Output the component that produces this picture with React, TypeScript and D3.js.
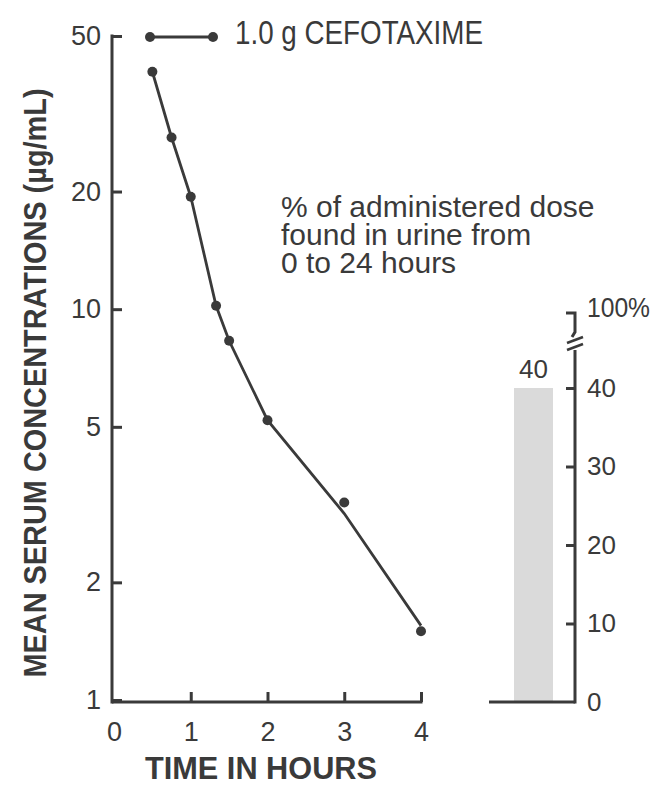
import React from 'react';
import * as d3 from 'd3';

// serum concentration (µg/mL) after 1.0 g cefotaxime
const times = [0.5, 0.75, 1, 1.33, 1.5, 2, 3, 4];
const serumConc = [40.5, 27.5, 19.4, 10.2, 8.3, 5.2, 3.2, 1.5];
// drawn curve (passes a little off the last two points)
const curveTimes = [0.5, 0.75, 1, 1.33, 1.5, 2, 3, 4];
const curveConc = [40.5, 27.5, 19.4, 10.2, 8.3, 5.2, 3.0, 1.55];

const xTicks = [0, 1, 2, 3, 4];
const yTicks = [1, 2, 5, 10, 20, 50];

// urine recovery bar
const urineLabels = ['0-24 h'];
const urinePct = [40];
const pctTicks = [0, 10, 20, 30, 40];

const INK = '#3a3a3a';
const SANS = '"Liberation Sans", Arial, Helvetica, sans-serif';

export default function App() {
  const svgRef = React.useRef<SVGSVGElement>(null);

  React.useEffect(() => {
    const svg = d3.select(svgRef.current);
    svg.selectAll('*').remove();

    const x = d3.scaleLinear().domain([0, 4]).range([114, 421]);
    const y = d3.scaleLog().domain([1, 50]).range([700, 36]);
    const yPct = d3.scaleLinear().domain([0, 40]).range([702, 388]);
    const xBar = d3.scaleBand<string>().domain(urineLabels).range([514, 553]);

    const axisLeftX = 112;
    const baseY = 702;
    const rightX = 575;

    // left (log) axis
    const yAxis = d3
      .axisLeft(y)
      .tickValues(yTicks)
      .tickFormat(d3.format('d') as any)
      .tickSizeInner(-10)
      .tickSizeOuter(0)
      .tickPadding(11);
    const gy = svg.append('g').attr('transform', `translate(${axisLeftX},0)`).call(yAxis as any);
    gy.select('.domain').remove();
    gy.selectAll('line').attr('stroke', INK).attr('stroke-width', 3);
    gy.selectAll('text')
      .attr('fill', INK)
      .style('font-family', SANS)
      .style('font-size', '27px');
    svg
      .append('line')
      .attr('x1', axisLeftX)
      .attr('x2', axisLeftX)
      .attr('y1', y(50) - 1.5)
      .attr('y2', baseY + 1.5)
      .attr('stroke', INK)
      .attr('stroke-width', 3);

    // bottom axis
    const xAxis = d3
      .axisBottom(x)
      .tickValues(xTicks)
      .tickFormat(d3.format('d') as any)
      .tickSizeInner(-10)
      .tickSizeOuter(0)
      .tickPadding(20);
    const gx = svg.append('g').attr('transform', `translate(0,${baseY})`).call(xAxis as any);
    gx.select('.domain').remove();
    gx.selectAll('.tick')
      .filter((d: any) => d === 0)
      .select('line')
      .remove();
    gx.selectAll('line').attr('stroke', INK).attr('stroke-width', 3);
    gx.selectAll('text')
      .attr('fill', INK)
      .style('font-family', SANS)
      .style('font-size', '27px');
    svg
      .append('line')
      .attr('x1', axisLeftX)
      .attr('x2', x(4) + 1.5)
      .attr('y1', baseY)
      .attr('y2', baseY)
      .attr('stroke', INK)
      .attr('stroke-width', 3);

    // curve + points
    const line = d3
      .line<number>()
      .x((_, i) => x(curveTimes[i]))
      .y(d => y(d));
    svg
      .append('path')
      .datum(curveConc)
      .attr('d', line)
      .attr('fill', 'none')
      .attr('stroke', INK)
      .attr('stroke-width', 2.8);
    svg
      .selectAll('.pt')
      .data(serumConc)
      .join('circle')
      .attr('class', 'pt')
      .attr('cx', (_, i) => x(times[i]))
      .attr('cy', d => y(d))
      .attr('r', 5)
      .attr('fill', INK);

    // legend
    const lg = svg.append('g');
    lg.append('line')
      .attr('x1', 150)
      .attr('x2', 213)
      .attr('y1', 37)
      .attr('y2', 37)
      .attr('stroke', INK)
      .attr('stroke-width', 3);
    lg.selectAll('circle')
      .data([150, 213])
      .join('circle')
      .attr('cx', d => d)
      .attr('cy', 37)
      .attr('r', 5)
      .attr('fill', INK);
    lg.append('text')
      .attr('x', 235)
      .attr('y', 44)
      .attr('fill', INK)
      .attr('textLength', 248)
      .attr('lengthAdjust', 'spacingAndGlyphs')
      .style('font-family', SANS)
      .style('font-size', '33px')
      .text('1.0 g CEFOTAXIME');

    // annotation
    const note = ['% of administered dose', 'found in urine from', '0 to 24 hours'];
    svg
      .append('text')
      .attr('fill', INK)
      .style('font-family', SANS)
      .style('font-size', '30px')
      .selectAll('tspan')
      .data(note)
      .join('tspan')
      .attr('x', 281)
      .attr('y', (_, i) => 217 + i * 28)
      .text(d => d);

    // urine bar
    svg
      .selectAll('.bar')
      .data(urinePct)
      .join('rect')
      .attr('class', 'bar')
      .attr('x', (_, i) => xBar(urineLabels[i]) as number)
      .attr('width', xBar.bandwidth())
      .attr('y', d => yPct(d))
      .attr('height', d => yPct(0) - yPct(d))
      .attr('fill', '#dadada');
    svg
      .selectAll('.barlab')
      .data(urinePct)
      .join('text')
      .attr('class', 'barlab')
      .attr('x', (_, i) => (xBar(urineLabels[i]) as number) + xBar.bandwidth() / 2)
      .attr('y', d => yPct(d) - 10)
      .attr('text-anchor', 'middle')
      .attr('fill', INK)
      .style('font-family', SANS)
      .style('font-size', '26px')
      .text(d => d);

    // right axis
    const rAxis = d3
      .axisRight(yPct)
      .tickValues(pctTicks)
      .tickSizeInner(-9)
      .tickSizeOuter(0)
      .tickPadding(12);
    const gr = svg.append('g').attr('transform', `translate(${rightX},0)`).call(rAxis as any);
    gr.select('.domain').remove();
    gr.selectAll('.tick')
      .filter((d: any) => d === 0)
      .select('line')
      .remove();
    gr.selectAll('line').attr('stroke', INK).attr('stroke-width', 3);
    gr.selectAll('text')
      .attr('fill', INK)
      .style('font-family', SANS)
      .style('font-size', '26px');

    // right axis spine with break
    svg
      .append('line')
      .attr('x1', rightX)
      .attr('x2', rightX)
      .attr('y1', 350)
      .attr('y2', baseY + 1.5)
      .attr('stroke', INK)
      .attr('stroke-width', 3);
    svg
      .append('line')
      .attr('x1', 489)
      .attr('x2', rightX)
      .attr('y1', baseY)
      .attr('y2', baseY)
      .attr('stroke', INK)
      .attr('stroke-width', 3);
    svg
      .append('path')
      .attr('d', `M${rightX - 9},313 H${rightX} V332 L${rightX - 3},337`)
      .attr('fill', 'none')
      .attr('stroke', INK)
      .attr('stroke-width', 3);
    svg
      .selectAll('.brk')
      .data([340, 347])
      .join('line')
      .attr('class', 'brk')
      .attr('x1', rightX - 8)
      .attr('x2', rightX + 8)
      .attr('y1', d => d + 3)
      .attr('y2', d => d - 3)
      .attr('stroke', INK)
      .attr('stroke-width', 2.5);
    svg
      .append('text')
      .attr('x', rightX + 12)
      .attr('y', 317)
      .attr('fill', INK)
      .attr('textLength', 63)
      .attr('lengthAdjust', 'spacingAndGlyphs')
      .style('font-family', SANS)
      .style('font-size', '27px')
      .text('100%');

    // axis titles
    svg
      .append('text')
      .attr('x', 261)
      .attr('y', 779)
      .attr('text-anchor', 'middle')
      .attr('fill', INK)
      .attr('textLength', 232)
      .attr('lengthAdjust', 'spacingAndGlyphs')
      .style('font-family', SANS)
      .style('font-weight', 'bold')
      .style('font-size', '31px')
      .text('TIME IN HOURS');
    svg
      .append('text')
      .attr('transform', 'translate(46,383) rotate(-90)')
      .attr('text-anchor', 'middle')
      .attr('fill', INK)
      .attr('textLength', 589)
      .attr('lengthAdjust', 'spacingAndGlyphs')
      .style('font-family', SANS)
      .style('font-weight', 'bold')
      .style('font-size', '32px')
      .text('MEAN SERUM CONCENTRATIONS (µg/mL)');
  }, []);

  return (
    <svg
      ref={svgRef}
      width={657}
      height={786}
      style={{ position: 'absolute', left: 0, top: 0, background: '#fff' }}
    />
  );
}
